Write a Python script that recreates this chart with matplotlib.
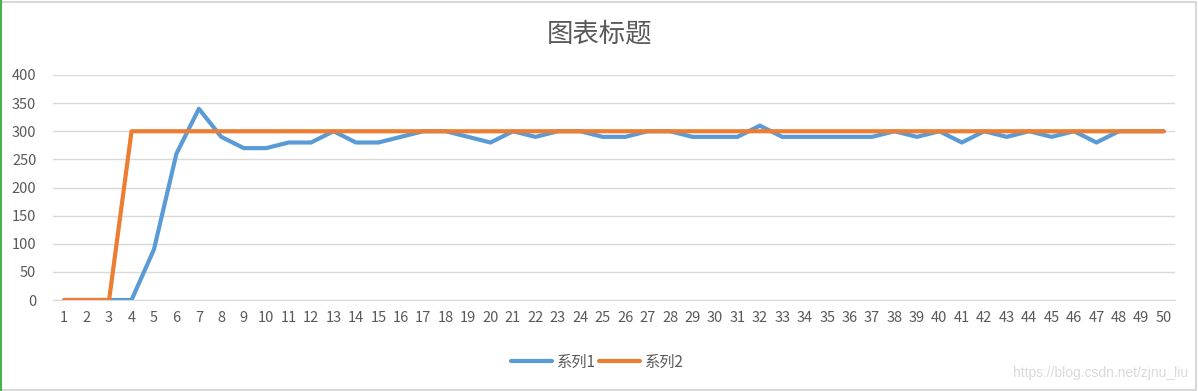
import matplotlib
matplotlib.use("Agg")
import matplotlib.pyplot as plt
from matplotlib.lines import Line2D
from matplotlib.patches import Rectangle

plt.rcParams['font.family'] = ['Noto Sans CJK SC', 'DejaVu Sans']

categories = list(range(1, 51))
series1 = [0, 0, 0, 0, 90, 260, 340, 290, 270, 270,
           280, 280, 300, 280, 280, 290, 300, 300, 290, 280,
           300, 290, 300, 300, 290, 290, 300, 300, 290, 290,
           290, 310, 290, 290, 290, 290, 290, 300, 290, 300,
           280, 300, 290, 300, 290, 300, 280, 300, 300, 300]
series2 = [0, 0, 0] + [300] * 47
yticks = [0, 50, 100, 150, 200, 250, 300, 350, 400]

W, H = 1198, 391
fig = plt.figure(figsize=(W / 100, H / 100), dpi=100)
ax = fig.add_axes([53 / W, 1 - 300 / H, (1175 - 53) / W, 225 / H])

txt = '#595959'
ax.set_xlim(0.5, 50.5)
ax.set_ylim(0, 400)
ax.set_yticks(yticks)
ax.set_xticks(categories)
ax.set_xticklabels([str(c) for c in categories])
ax.grid(axis='y', color='#D9D9D9', linewidth=1)
ax.set_axisbelow(True)
for s in ['top', 'right', 'left']:
    ax.spines[s].set_visible(False)
ax.spines['bottom'].set_color('#D9D9D9')
ax.tick_params(axis='both', length=0, labelsize=10.5, labelcolor=txt)
ax.tick_params(axis='x', pad=8)
ax.tick_params(axis='y', pad=12)

ax.plot(categories, series1, color='#5B9BD5', linewidth=3, solid_joinstyle='round', solid_capstyle='round', label='系列1', zorder=3)
ax.plot(categories, series2, color='#ED7D31', linewidth=3, solid_joinstyle='round', solid_capstyle='round', label='系列2', zorder=3)

fig.text(600 / W, 1 - 34 / H, '图表标题', ha='center', va='center', fontsize=19, color=txt)

handles = [Line2D([], [], color='#5B9BD5', linewidth=3, solid_capstyle='round'),
           Line2D([], [], color='#ED7D31', linewidth=3, solid_capstyle='round')]
fig.legend(handles, ['系列1', '系列2'], loc='center', bbox_to_anchor=(597 / W, 1 - 362 / H),
           ncol=2, frameon=False, fontsize=11, labelcolor=txt, handlelength=2.7,
           handletextpad=0.3, columnspacing=0.2)

fig.text(1188 / W, 1 - 373 / H, 'https://blog.csdn.net/zjnu_liu', ha='right', va='center',
         fontsize=10, color='#DADADA', family=['Liberation Sans', 'DejaVu Sans'])

# chart border
fig.patches.append(Rectangle((0.5 / W, 1.5 / H), (W - 3) / W, (H - 3.5) / H, transform=fig.transFigure,
                             fill=False, edgecolor='#D9D9D9', linewidth=1.5))
fig.add_artist(Line2D([1 / W, 1 / W], [0, 1], transform=fig.transFigure, color='#4CAF50', linewidth=1.5))

fig.savefig('out.png', dpi=100)
